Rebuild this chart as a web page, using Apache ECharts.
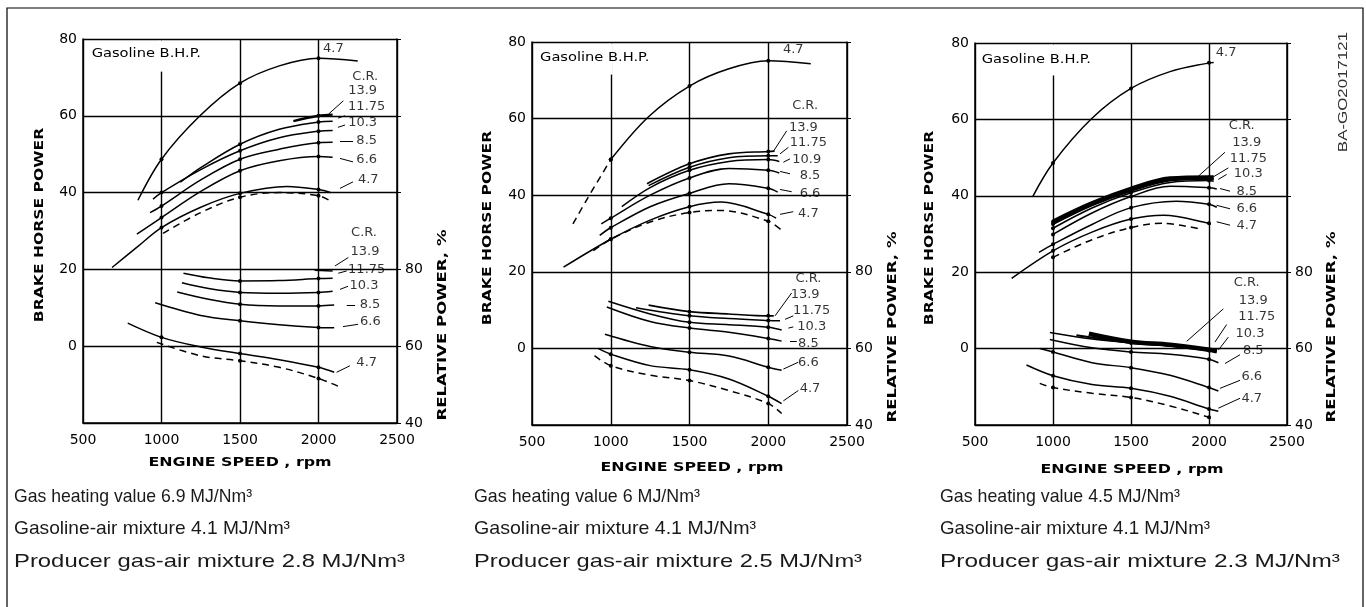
<!DOCTYPE html>
<html><head><meta charset="utf-8">
<script src="https://cdn.jsdelivr.net/npm/echarts@6/dist/echarts.min.js"></script>
<style>html,body{margin:0;padding:0;background:#fff}#c{width:1366px;height:607px}</style>
</head><body><div id="c"></div><script>
// ---------- ticks & labels ----------
const rpmTicks = [500, 1000, 1500, 2000, 2500];
const crLabelsA = ['13.9', '11.75', '10.3', '8.5', '6.6', '4.7'];
const crLabelsB = ['13.9', '11.75', '10.9', '8.5', '6.6', '4.7'];
const footnotesCol1 = ['Gas heating value 6.9 MJ/Nm³', 'Gasoline-air mixture 4.1 MJ/Nm³', 'Producer gas-air mixture 2.8 MJ/Nm³'];
const footnotesCol2 = ['Gas heating value 6 MJ/Nm³', 'Gasoline-air mixture 4.1 MJ/Nm³', 'Producer gas-air mixture 2.5 MJ/Nm³'];
const footnotesCol3 = ['Gas heating value 4.5 MJ/Nm³', 'Gasoline-air mixture 4.1 MJ/Nm³', 'Producer gas-air mixture 2.3 MJ/Nm³'];

// ---------- panel 1 (6.9 MJ/Nm3) ----------
const p1Gasoline = [[850,38],[1000,48.7],[1245,60],[1500,68.5],[1750,73],[2000,75],[2250,74.3]];
const p1GasolineDashed = [];
const p1BhpCR = [
  [[1840,58.6],[2000,60],[2090,60.3]],
  [[1120,42.7],[1250,46.5],[1500,52.6],[1750,56.5],[2000,58.4],[2090,58.6]],
  [[946,38.3],[1000,40],[1250,46],[1500,50.9],[1750,54.3],[2000,56],[2090,56.2]],
  [[927,34.8],[1000,36.5],[1250,43.3],[1500,48.7],[1750,51.3],[2000,53],[2090,53.1]],
  [[843,29.2],[1000,33.5],[1250,40.3],[1500,45.7],[1750,48.3],[2000,49.4],[2090,49.2]],
  [[685,20.5],[850,26],[1000,30.9],[1250,36.2],[1500,39.8],[1800,41.6],[2000,40.8],[2080,40]]
];
const p1BhpDashed = [[1010,29.4],[1250,34.8],[1500,38.8],[1750,40],[2000,39.2],[2075,37.8]];
const p1RelCR = [
  [[1975,79.8],[2090,79.6]],
  [[1140,79],[1300,77.8],[1500,77],[1750,77.1],[2000,77.6],[2090,77.7]],
  [[1130,76.5],[1300,75],[1500,74],[1750,73.8],[2000,74],[2090,74.3]],
  [[1100,74.1],[1300,72.2],[1500,70.9],[1750,70.5],[2000,70.5],[2100,70.7]],
  [[960,71.3],[1250,68],[1500,66.6],[1750,65.6],[2000,64.9],[2100,64.8]],
  [[785,66],[1000,62.3],[1250,59.8],[1500,58.1],[1750,56.5],[2000,54.5],[2100,53.2]]
];
const p1RelDashed = [[970,61],[1250,57.5],[1500,56.2],[1750,54.5],[2000,51.6],[2140,49.3]];

// ---------- panel 2 (6 MJ/Nm3) ----------
const p2Gasoline = [[1000,49.3],[1240,60.5],[1500,68.5],[1750,73],[2000,75.1],[2270,74.3]];
const p2GasolineDashed = [[760,32.5],[850,39],[1000,49.3]];
const p2BhpCR = [
  [[1230,43],[1500,48.2],[1750,50.8],[2000,51.4],[2040,51.5]],
  [[1240,42.5],[1500,47.3],[1750,49.8],[2000,50.3],[2060,50.3]],
  [[1070,37],[1250,42],[1500,46.5],[1750,48.8],[2000,49.3],[2070,48.8]],
  [[940,32.5],[1000,34],[1250,40],[1500,44.5],[1750,47],[2000,46.5],[2070,45.8]],
  [[930,29.5],[1000,31.5],[1250,37],[1500,40.5],[1750,43],[2000,41.8],[2060,40.8]],
  [[700,21.2],[1000,28.5],[1250,33.5],[1500,37],[1700,38.2],[2000,35],[2050,34]]
];
const p2BhpDashed = [[890,25.5],[1000,28.5],[1250,33],[1500,35.5],[1700,36],[2000,33.2],[2080,31]];
const p2RelCR = [
  [[1240,71.3],[1500,69.6],[1750,69],[2000,68.5],[2035,68.5]],
  [[1160,70.6],[1500,68.5],[1750,67.8],[2000,67.3],[2075,67.2]],
  [[985,72.3],[1250,69],[1500,66.8],[1750,66.2],[2000,65.5],[2085,64.8]],
  [[975,70.8],[1250,67],[1500,65.3],[1750,64.2],[2000,62.6],[2085,61.9]],
  [[963,63.7],[1250,60.5],[1500,59],[1750,58],[2000,55.1],[2085,54.3]],
  [[920,60],[1000,58.5],[1250,55.5],[1500,54.4],[1750,52],[2000,47.5],[2085,45.6]]
];
const p2RelDashed = [[897,58.1],[1000,55.5],[1250,53],[1500,51.6],[1750,49],[2000,45.6],[2085,43]];

// ---------- panel 3 (4.5 MJ/Nm3) ----------
const p3Gasoline = [[870,39.8],[1000,48.6],[1250,60.3],[1500,68.1],[1750,72.5],[2000,74.8],[2030,74.9]];
const p3GasolineDashed = [];
const p3BhpCR = [
  [[1000,33.2],[1250,38],[1500,41.8],[1750,44.5],[2000,44.8],[2030,44.8]],
  [[1000,32.6],[1250,37.5],[1500,41.3],[1750,44],[2000,44.5],[2030,44.3]],
  [[1000,31.5],[1250,36.8],[1500,40.8],[1750,43.5],[2000,44],[2030,43.8]],
  [[1000,29.9],[1250,35.5],[1500,39.8],[1750,42.5],[2000,42.1],[2050,41.8]],
  [[910,25.2],[1000,27.3],[1250,32.5],[1500,36.9],[1790,38.6],[2000,37.8],[2050,37]],
  [[735,18.4],[1000,25.6],[1250,30.5],[1500,33.9],[1710,34.9],[2000,32.8],[2010,32.5]]
];
const p3BhpDashed = [[1000,23.9],[1250,28.5],[1500,31.7],[1700,32.8],[1930,31.4]];
const p3RelCR = [
  [[1230,63.9],[1500,61.8],[1750,61],[2000,59.7],[2050,59.3]],
  [[1150,63.5],[1500,61.5],[1750,60.8],[2000,59.5],[2050,59.2]],
  [[980,64.2],[1250,62.5],[1500,61.5],[1750,60.7],[2000,59.6],[2040,59.3]],
  [[980,62.4],[1250,60.2],[1500,59.1],[1750,58.5],[2000,57.2],[2060,56.3]],
  [[915,60],[1000,59.1],[1250,56.3],[1500,55],[1750,53],[2000,49.8],[2060,48.9]],
  [[830,55.7],[1000,52.9],[1250,50.6],[1500,49.6],[1750,47.5],[2000,44.2],[2060,43.6]]
];
const p3RelDashed = [[915,50.9],[1000,49.8],[1250,48.3],[1500,47.2],[1750,45],[2000,42],[2010,41.7]];

// ---------- annotation anchors (data coordinates) : C.R., then each C.R. value ----------
const p1UpperLabelAt = [[2298,70.2],[2281,66.5],[2307,62.4],[2281,58.1],[2307,53.6],[2307,48.5],[2317,43.5]];
const p1LowerLabelAt = [[2290,89.6],[2296,84.7],[2307,80],[2290,75.7],[2328,70.9],[2330,66.3],[2307,55.6]];
const p1UpperLeaders = [[[2158,63.9],[2063,60.4]],[[2124,59.4],[2169,60]],[[2124,57],[2169,57.6]],[[2137,53.5],[2220,53.5]],[[2137,48.9],[2220,48]],[[2137,41.1],[2220,42.8]]];
const p1LowerLeaders = [[[2190,83.1],[2105,80.9]],[[2126,79],[2180,79.6]],[[2137,74.8],[2188,75.6]],[[2180,70.7],[2233,70.7]],[[2156,65.1],[2252,65.7]],[[2115,53.2],[2200,54.9]]];
const p1TopLabelAt = [2095,77.5];
const p2UpperLabelAt = [[2234,63.3],[2223,57.7],[2255,53.6],[2244,49.3],[2265,45],[2265,40.4],[2255,35.2]];
const p2LowerLabelAt = [[2255,78.2],[2234,74.1],[2276,69.8],[2276,65.6],[2255,61.3],[2255,56.4],[2265,49.5]];
const p2UpperLeaders = [[[2117,56.8],[2032,51.4]],[[2128,52.5],[2075,50.8]],[[2138,49.5],[2096,48.6]],[[2138,45.6],[2075,46.2]],[[2149,40.9],[2075,41.5]],[[2159,35.7],[2075,35]]];
const p2LowerLeaders = [[[2149,74.5],[2043,68.5]],[[2159,68.5],[2107,67.6]],[[2159,65.6],[2128,65.3]],[[2181,61.8],[2138,61.8]],[[2191,56.4],[2096,54.6]],[[2191,49],[2096,46.3]]];
const p2TopLabelAt = [2159,78];
const p3UpperLabelAt = [[2210,58.3],[2242,54],[2252,49.7],[2252,45.8],[2242,41.1],[2242,36.6],[2242,32.3]];
const p3LowerLabelAt = [[2242,77.4],[2284,72.6],[2306,68.3],[2263,63.9],[2284,59.6],[2274,52.6],[2274,46.8]];
const p3UpperLeaders = [[[2102,51.4],[1931,45.1]],[[2124,47.3],[2017,44.7]],[[2113,45.6],[2060,44.3]],[[2135,41.2],[2071,41.9]],[[2135,36.6],[2049,37.5]],[[2135,32.3],[2049,33.2]]];
const p3LowerLeaders = [[[2092,70.4],[1857,61.9]],[[2113,66.3],[2038,61.7]],[[2124,63],[2060,59.6]],[[2199,58.4],[2103,56.1]],[[2199,51.7],[2071,49.6]],[[2199,47],[2060,44.4]]];
const p3TopLabelAt = [2110,77.5];
const gasolineLabelAt = [[555,76],[551,75.9],[543,75.5]];
const captionGapTo = 71.5; // the 1000-rpm grid line is interrupted above this value (caption area)

// ---------- layout / style (pixels) ----------
const FONT = 'DejaVu Sans';
const panelGrids = [
  {left:83, top:39, width:314, height:384},
  {left:532, top:42, width:315, height:383},
  {left:975, top:43, width:312, height:382}
];
const bhpNameAt = [[40,225],[488,228],[930,228]];
const relNameAt = [[443,325],[893,327],[1332,327]];
const speedNameAt = [[240,463],[692,468],[1132,470]];
const footnoteX = [14, 474, 940];
const footnoteY = [497, 529, 562];
const footnoteWidths = [[238,276,391],[226,282,388],[240,270,400]];

const panels = [
  {gas:p1Gasoline, gasD:p1GasolineDashed, bhp:p1BhpCR, bhpD:p1BhpDashed, rel:p1RelCR, relD:p1RelDashed,
   cr:crLabelsA, upAt:p1UpperLabelAt, loAt:p1LowerLabelAt, upL:p1UpperLeaders, loL:p1LowerLeaders, topAt:p1TopLabelAt, thick:[2.4,1.5]},
  {gas:p2Gasoline, gasD:p2GasolineDashed, bhp:p2BhpCR, bhpD:p2BhpDashed, rel:p2RelCR, relD:p2RelDashed,
   cr:crLabelsB, upAt:p2UpperLabelAt, loAt:p2LowerLabelAt, upL:p2UpperLeaders, loL:p2LowerLeaders, topAt:p2TopLabelAt, thick:[1.6,1.6]},
  {gas:p3Gasoline, gasD:p3GasolineDashed, bhp:p3BhpCR, bhpD:p3BhpDashed, rel:p3RelCR, relD:p3RelDashed,
   cr:crLabelsA, upAt:p3UpperLabelAt, loAt:p3LowerLabelAt, upL:p3UpperLeaders, loL:p3LowerLeaders, topAt:p3TopLabelAt, thick:[4.5,4.5]}
];

const dotSymbol = (v) => (v[0] === 1000 || v[0] === 1500 || v[0] === 2000) ? 'circle' : 'none';
const grids = [], xAxes = [], yAxes = [], series = [], graphics = [];

panels.forEach((p, i) => {
  grids.push(panelGrids[i]);
  xAxes.push({type:'value', gridIndex:i, min:rpmTicks[0], max:rpmTicks[rpmTicks.length-1], interval:500,
    axisLine:{show:true, onZero:false, lineStyle:{color:'#000', width:1.5}}, axisTick:{show:false},
    axisLabel:{color:'#000', fontSize:14, fontFamily:FONT, margin:10, formatter:(v)=>String(v)},
    splitLine:{show:true, lineStyle:{color:'#000', width:1.4}}});
  yAxes.push({type:'value', gridIndex:i, min:-20, max:80, interval:20, position:'left',
    axisLine:{show:true, onZero:false, lineStyle:{color:'#000', width:1.5}}, axisTick:{show:false},
    axisLabel:{color:'#000', fontSize:14, fontFamily:FONT, margin:6, formatter:(v)=> v < 0 ? '' : String(v)},
    splitLine:{show:true, lineStyle:{color:'#000', width:1.4}}});
  yAxes.push({type:'value', gridIndex:i, min:40, max:140, interval:20, position:'right',
    axisLine:{show:true, onZero:false, lineStyle:{color:'#000', width:1.5}},
    axisTick:{show:true, length:4, lineStyle:{color:'#000'}},
    axisLabel:{color:'#000', fontSize:14, fontFamily:FONT, margin:8, formatter:(v)=> v <= 80 ? String(v) : ''},
    splitLine:{show:false}});
  const xi = i, yl = 2*i, yr = 2*i + 1;
  const line = (data, yIdx, width, dashed) => ({type:'line', xAxisIndex:xi, yAxisIndex:yIdx, data, smooth:0.35,
    symbol:dotSymbol, symbolSize:4, showSymbol:true, showAllSymbol:true, itemStyle:{color:'#000'},
    lineStyle:{color:'#000', width, type: dashed ? [7,5] : 'solid'}, silent:true, z:3});
  series.push(line(p.gas, yl, 1.5, false));
  if (p.gasD.length) series.push(line(p.gasD, yl, 1.5, true));
  p.bhp.forEach((d, k) => series.push(line(d, yl, k === 0 ? p.thick[0] : (k === 1 && i === 2 ? 2.2 : 1.5), false)));
  series.push(line(p.bhpD, yl, 1.5, true));
  p.rel.forEach((d, k) => series.push(line(d, yr, k === 0 ? p.thick[1] : (k === 1 && i === 2 ? 2.2 : 1.5), false)));
  series.push(line(p.relD, yr, 1.5, true));
  const leaders = (arr, yIdx) => ({type:'lines', coordinateSystem:'cartesian2d', xAxisIndex:xi, yAxisIndex:yIdx,
    data: arr.map(c => ({coords:c})), lineStyle:{color:'#000', width:1, opacity:1}, silent:true, z:4});
  series.push(leaders(p.upL, yl));
  series.push(leaders(p.loL, yr));
  const lbl = (items, yIdx) => ({type:'scatter', xAxisIndex:xi, yAxisIndex:yIdx, symbolSize:1,
    itemStyle:{color:'rgba(0,0,0,0)'}, silent:true, z:5,
    label:{show:true, position:'inside', formatter:'{b}', color:'#000', fontSize:13, fontFamily:FONT},
    data: items});
  const names = ['C.R.'].concat(p.cr);
  const upItems = p.upAt.map((c, k) => ({name:names[k], value:c}));
  upItems.push({name:'4.7', value:p.topAt});
  series.push(lbl(upItems, yl));
  const lnames = ['C.R.'].concat(crLabelsA);
  series.push(lbl(p.loAt.map((c, k) => ({name:lnames[k], value:c})), yr));

  graphics.push({type:'text', x:bhpNameAt[i][0], y:bhpNameAt[i][1], rotation:Math.PI/2, scaleX:1.3,
    style:{text:'BRAKE HORSE POWER', fill:'#000', font:'bold 12px "DejaVu Sans"', align:'center', verticalAlign:'middle'}});
  graphics.push({type:'text', x:relNameAt[i][0], y:relNameAt[i][1], rotation:Math.PI/2, scaleX:1.38,
    style:{text:'RELATIVE POWER, %', fill:'#000', font:'bold 12px "DejaVu Sans"', align:'center', verticalAlign:'middle'}});
  graphics.push({type:'text', x:speedNameAt[i][0], y:speedNameAt[i][1], scaleX:1.32,
    style:{text:'ENGINE SPEED , rpm', fill:'#000', font:'bold 12px "DejaVu Sans"', align:'center', verticalAlign:'middle'}});
});

graphics.push({type:'rect', shape:{x:7, y:8, width:1356, height:620}, style:{fill:'none', stroke:'#000', lineWidth:1.2}, z:-1});
graphics.push({type:'text', x:1343, y:92, rotation:Math.PI/2, scaleX:1.3,
  style:{text:'BA-GO2017121', fill:'#333', font:'13px "Liberation Sans"', align:'center', verticalAlign:'middle'}});

const FOOT_FONT = '19px "Liberation Sans"';
const mctx = document.createElement('canvas').getContext('2d');
mctx.font = FOOT_FONT;
[footnotesCol1, footnotesCol2, footnotesCol3].forEach((col, c) => {
  col.forEach((t, r) => {
    const w = mctx.measureText(t).width || 1;
    graphics.push({type:'text', x:footnoteX[c], y:footnoteY[r], scaleX: footnoteWidths[c][r] / w,
      style:{text:t, fill:'#1a1a1a', font:FOOT_FONT, align:'left', verticalAlign:'middle'}});
  });
});

const chart = echarts.init(document.getElementById('c'), null, {renderer:'canvas'});
chart.setOption({animation:false, backgroundColor:'#fff', grid:grids, xAxis:xAxes, yAxis:yAxes, series});
gasolineLabelAt.forEach((d, i) => {
  const px = chart.convertToPixel({xAxisIndex:i, yAxisIndex:2*i}, d);
  graphics.push({type:'text', x:px[0], y:px[1], scaleX:1.22, z:2,
    style:{text:'Gasoline B.H.P.', fill:'#000', font:'12px "DejaVu Sans"', align:'left', verticalAlign:'middle'}});
  // caption area: the 1000-rpm grid line starts below the caption
  const top = chart.convertToPixel({xAxisIndex:i, yAxisIndex:2*i}, [1000, 80]);
  const bot = chart.convertToPixel({xAxisIndex:i, yAxisIndex:2*i}, [1000, captionGapTo]);
  graphics.push({type:'rect', z:1, shape:{x:top[0]-2, y:top[1]+1.5, width:4, height:bot[1]-top[1]-1.5},
    style:{fill:'#fff', stroke:null}});
});
chart.setOption({graphic:graphics});
</script></body></html>
